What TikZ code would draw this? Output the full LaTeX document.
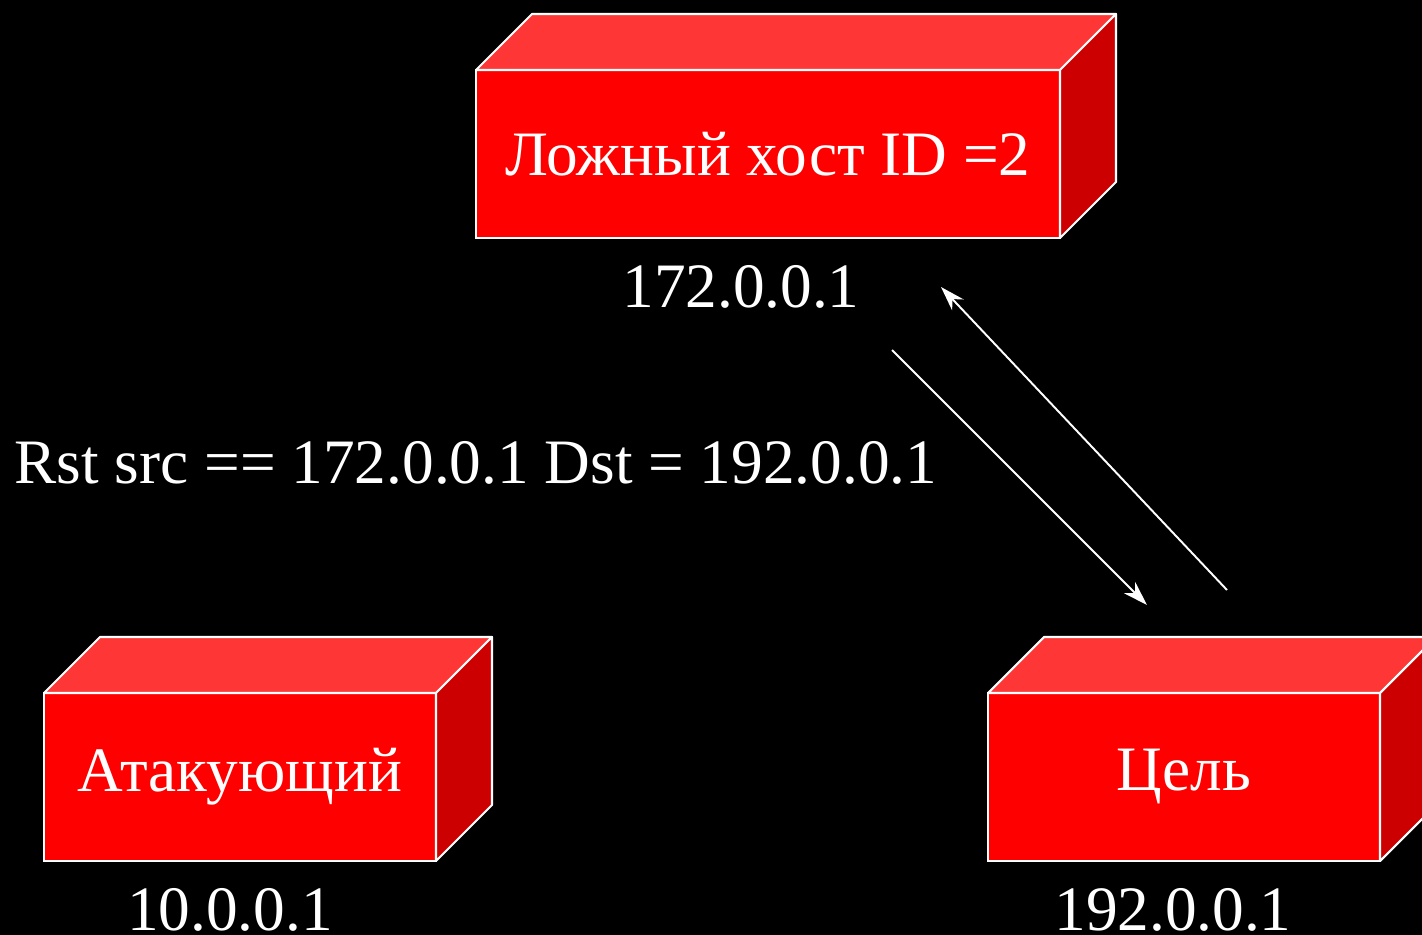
\documentclass[tikz,border=0pt]{standalone}
\usepackage{fontspec}
\setmainfont{Liberation Serif}
\usepackage{xcolor}
\usetikzlibrary{positioning, arrows.meta}
\definecolor{frontred}{HTML}{FF0000}
\definecolor{topred}{HTML}{FF3636}
\definecolor{sidered}{HTML}{CC0000}
\tikzstyle{host} = [rectangle, minimum width=3.92cm, minimum height=1.68cm, text centered, draw=white, line width=0.6pt, fill=frontred, outer sep=0pt, text=white, font=\fontsize{18}{22}\selectfont]
\tikzstyle{topface} = [draw=white, line width=0.6pt, fill=topred, line join=round]
\tikzstyle{sideface} = [draw=white, line width=0.6pt, fill=sidered, line join=round]
\tikzstyle{addr} = [inner sep=0pt, text=white, font=\fontsize{18}{22}\selectfont]
\tikzstyle{arrow} = [draw=white, line width=0.55pt, -{Stealth[length=7pt, width=4.5pt]}]

\begin{document}
\begin{tikzpicture}
        % Background
        \fill[black] (0,0) rectangle (14.22,-9.35);
        \useasboundingbox (0,0) rectangle (14.22,-9.35);

        % Hosts
        \node (fake) [host, minimum width=5.84cm] at (7.68,-1.54) {Ложный хост ID =2};
        \node (attacker) [host] at (2.40,-7.77) {Атакующий};
        \node (target) [host] at (11.84,-7.77) {Цель};

        % 3D faces
        \foreach \n in {fake, attacker, target} {
            \filldraw[topface] (\n.north west) -- ++(0.56,0.56) -- ([shift={(0.56,0.56)}]\n.north east) -- (\n.north east) -- cycle;
            \filldraw[sideface] (\n.north east) -- ++(0.56,0.56) -- ([shift={(0.56,0.56)}]\n.south east) -- (\n.south east) -- cycle;
        }

        % Addresses
        \node (fakeip) [addr, below=0.27cm of fake, xshift=-0.27cm] {172.0.0.1};
        \node (attackerip) [addr, below=0.27cm of attacker, xshift=-0.10cm] {10.0.0.1};
        \node (targetip) [addr, below=0.27cm of target, xshift=-0.11cm] {192.0.0.1};

        % Packet
        \node (rst) [addr, anchor=base west] at (0.14,-4.83) {Rst src == 172.0.0.1 Dst = 192.0.0.1};

        % Arrows
        \coordinate (reqstart) at (8.92,-3.50);
        \coordinate (reqend) at (11.47,-6.05);
        \coordinate (repstart) at (12.27,-5.90);
        \coordinate (repend) at (9.41,-2.87);
        \draw [arrow] (reqstart) -- (reqend);
        \draw [arrow] (repstart) -- (repend);
    \end{tikzpicture}
\end{document}
